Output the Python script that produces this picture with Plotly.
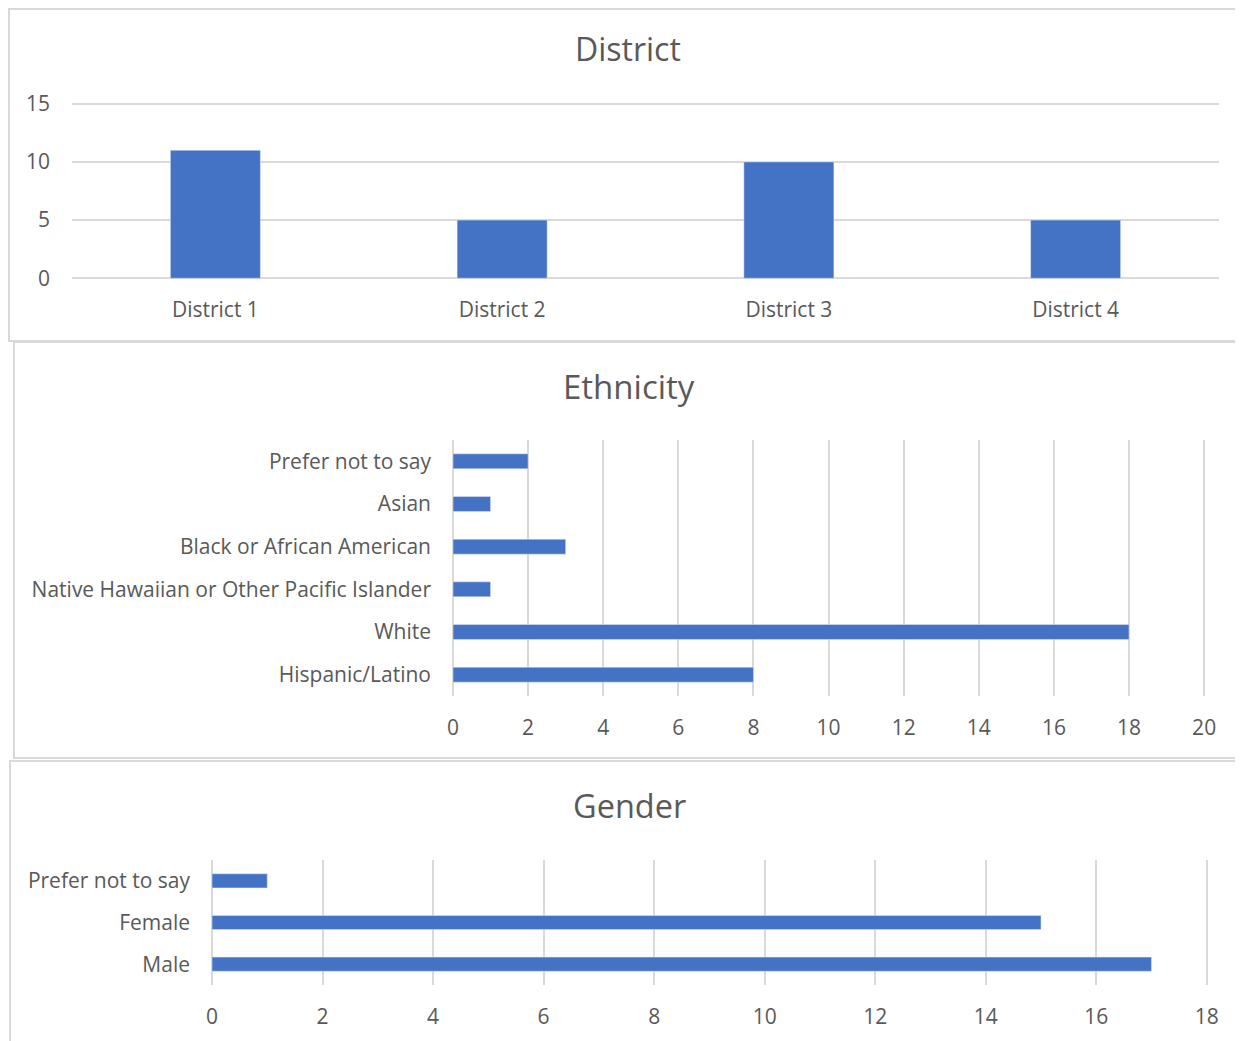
import plotly.graph_objects as go

W, H = 1250, 1050
OFF = 8  # page margin around the figure

district_cats = ["District 1", "District 2", "District 3", "District 4"]
district_vals = [11, 5, 10, 5]

eth_cats = ["Hispanic/Latino", "White", "Native Hawaiian or Other Pacific Islander",
            "Black or African American", "Asian", "Prefer not to say"]
eth_vals = [8, 18, 1, 3, 1, 2]

gender_cats = ["Male", "Female", "Prefer not to say"]
gender_vals = [17, 15, 1]

BAR = "#4472C4"
GRID = "#d9d9d9"
TXT = "#595959"
FONT = "Open Sans"


def px(x):
    m = max(x - OFF, 1)
    return m / W


def py(y):
    m = max(y - OFF, 1)
    return 1 - m / H


fig = go.Figure()

fig.add_trace(go.Bar(x=district_cats, y=district_vals, marker_color=BAR,
                     width=0.314, xaxis="x", yaxis="y", showlegend=False))
fig.add_trace(go.Bar(y=eth_cats, x=eth_vals, orientation="h", marker_color=BAR,
                     width=0.35, xaxis="x2", yaxis="y2", showlegend=False))
fig.add_trace(go.Bar(y=gender_cats, x=gender_vals, orientation="h", marker_color=BAR,
                     width=0.34, xaxis="x3", yaxis="y3", showlegend=False))

tickfont = dict(family=FONT, size=21, color=TXT)

fig.update_layout(
    width=W, height=H,
    margin=dict(l=0, r=0, t=0, b=0, autoexpand=False),
    paper_bgcolor="white", plot_bgcolor="white",
    font=dict(family=FONT, color=TXT),
    xaxis=dict(domain=[px(72), px(1219)], anchor="y", showgrid=False, showline=False,
               zeroline=False, tickfont=tickfont, ticks="", ticklabelstandoff=15),
    yaxis=dict(domain=[py(280), py(102)], anchor="x", range=[-0.15, 15.15],
               tickvals=[0, 5, 10, 15],
               showgrid=True, gridcolor=GRID, gridwidth=2, zeroline=False, showline=False,
               tickfont=tickfont, ticks="", ticklabelstandoff=21),
    xaxis2=dict(domain=[px(453), px(1206)], anchor="y2", range=[0, 20.05],
                tickvals=[0, 2, 4, 6, 8, 10, 12, 14, 16, 18, 20],
                showgrid=True, gridcolor=GRID, gridwidth=2, zeroline=True, zerolinecolor=GRID,
                zerolinewidth=2, showline=False, tickfont=tickfont, ticks="", ticklabelstandoff=17),
    yaxis2=dict(domain=[py(696), py(440)], anchor="x2", showgrid=False, showline=False,
                zeroline=False, tickfont=tickfont, ticks="", ticklabelstandoff=21,
                categoryorder="array", categoryarray=eth_cats),
    xaxis3=dict(domain=[px(212), px(1209)], anchor="y3", range=[0, 18.04],
                tickvals=[0, 2, 4, 6, 8, 10, 12, 14, 16, 18],
                showgrid=True, gridcolor=GRID, gridwidth=2, zeroline=True, zerolinecolor=GRID,
                zerolinewidth=2, showline=False, tickfont=tickfont, ticks="", ticklabelstandoff=17),
    yaxis3=dict(domain=[py(985), py(860)], anchor="x3", showgrid=False, showline=False,
                zeroline=False, tickfont=tickfont, ticks="", ticklabelstandoff=21,
                categoryorder="array", categoryarray=gender_cats),
)

titles = [("District", 628, 49, 32), ("Ethnicity", 629, 386, 33), ("Gender", 629, 805, 32.5)]
for text, x, y, s in titles:
    fig.add_annotation(text=text, x=px(x), y=py(y), xref="paper", yref="paper",
                       showarrow=False, xanchor="center", yanchor="middle",
                       font=dict(family=FONT, size=s, color=TXT))

boxes = [(8, 5, 1300, 341), (14, 342, 1300, 758), (10, 761, 1300, 1100)]
for x0, y0, x1, y1 in boxes:
    fig.add_shape(type="rect", xref="paper", yref="paper",
                  x0=px(x0), y0=py(y0), x1=px(x1), y1=py(y1),
                  line=dict(color=GRID, width=2), fillcolor="rgba(0,0,0,0)", layer="below")

fig.write_html("out.html")
